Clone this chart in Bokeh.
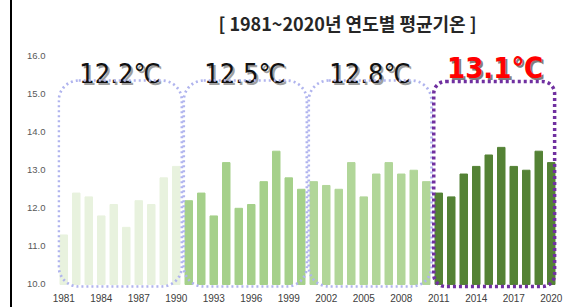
from bokeh.plotting import figure
from bokeh.models import (ColumnDataSource, FixedTicker, NumeralTickFormatter,
                          BoxAnnotation, Range1d, Div)
from bokeh.layouts import row
from bokeh.core.properties import value
from bokeh.embed import file_html
from bokeh.resources import INLINE

# ---------------- data ----------------
years = list(range(1981, 2021))
temps = [11.3, 12.4, 12.3, 11.8, 12.1, 11.5, 12.2, 12.1, 12.8, 13.1,
         12.2, 12.4, 11.8, 13.2, 12.0, 12.1, 12.7, 13.5, 12.8, 12.5,
         12.7, 12.6, 12.5, 13.2, 12.3, 12.9, 13.2, 12.9, 13.0, 12.7,
         12.4, 12.3, 12.9, 13.1, 13.4, 13.6, 13.1, 13.0, 13.5, 13.2]
period_starts = [1981, 1991, 2001, 2011]
period_ends = [1990, 2000, 2010, 2020]
period_means = [12.2, 12.5, 12.8, 13.1]
period_colors = ["#e8f2de", "#a5d08a", "#b1d699", "#548235"]
x_tick_years = list(range(1981, 2021, 3))
y_ticks = [10, 11, 12, 13, 14, 15, 16]
title_text = "[ 1981~2020년 연도별 평균기온 ]"

# ---------------- build ----------------
bar_colors = []
for y in years:
    for s, e, c in zip(period_starts, period_ends, period_colors):
        if s <= y <= e:
            bar_colors.append(c)
src = ColumnDataSource(dict(year=years, temp=temps, color=bar_colors))

y0, y1 = 9.868, 17.457
p = figure(width=553, height=307, output_backend="svg", toolbar_location=None,
           x_range=Range1d(1980.5, 2020.5), y_range=Range1d(y0, y1),
           min_border_left=45, min_border_right=8, min_border_top=0,
           min_border_bottom=18)
p.outline_line_color = None
p.xgrid.visible = False
p.ygrid.visible = False
p.background_fill_color = "white"
p.border_fill_color = "white"

p.vbar(x="year", top="temp", bottom=10, width=0.6, color="color", source=src)

# axes
for ax in (p.xaxis[0], p.yaxis[0]):
    ax.axis_line_color = None
    ax.major_tick_line_color = None
    ax.minor_tick_line_color = None
    ax.major_tick_out = 0
    ax.major_tick_in = 0
    ax.minor_tick_out = 0
    ax.minor_tick_in = 0
    ax.major_label_text_font = "Liberation Sans"
p.xaxis.ticker = FixedTicker(ticks=x_tick_years)
p.xaxis.formatter = NumeralTickFormatter(format="0")
p.xaxis.major_label_text_font_size = "10px"
p.xaxis.major_label_text_color = "#404040"
p.xaxis.major_label_standoff = 4
p.yaxis.ticker = FixedTicker(ticks=y_ticks)
p.yaxis.formatter = NumeralTickFormatter(format="0.0")
p.yaxis.major_label_text_font_size = "9.5px"
p.yaxis.major_label_text_color = "#595959"
p.yaxis.major_label_standoff = 12

# dotted rounded period boxes
right_pad = [0.45, 0.45, 0.42, 0.27]
for i, (s, e) in enumerate(zip(period_starts, period_ends)):
    last = i == len(period_starts) - 1
    box = BoxAnnotation(left=s - 0.4, right=e + right_pad[i], bottom=9.947,
                        top=15.33 if last else 15.356,
                        fill_alpha=0, fill_color=None,
                        line_color="#7030a0" if last else "#b0b4ee",
                        line_alpha=1,
                        line_width=3.5 if last else 2.7,
                        line_dash="3 3" if last else "2 3",
                        border_radius=12 if last else 20,
                        level="overlay")
    p.add_layout(box)

# period mean labels
FONT = "DejaVu Sans Condensed, Roboto Condensed, Liberation Sans"
mids = [(s + e) / 2 for s, e in zip(period_starts, period_ends)]
lab_txt = [f"{m:.1f}\u2103" for m in period_means]
lab_src = ColumnDataSource(dict(x=mids[:3], y=[15.54] * 3, t=lab_txt[:3]))
p.text(x="x", y="y", text="t", source=lab_src, text_align="center",
       text_baseline="alphabetic", text_font=value(FONT),
       text_font_size="27px", text_color="#a0a0a0", x_offset=2, y_offset=2)
p.text(x="x", y="y", text="t", source=lab_src, text_align="center",
       text_baseline="alphabetic", text_font=value(FONT),
       text_font_size="27px", text_color="#111111")
red_src = ColumnDataSource(dict(x=mids[3:], y=[15.68], t=lab_txt[3:]))
p.text(x="x", y="y", text="t", source=red_src, text_align="center",
       text_baseline="alphabetic", text_font=value(FONT),
       text_font_size="29px", text_font_style="bold", text_color="#808080",
       x_offset=2, y_offset=2)
p.text(x="x", y="y", text="t", source=red_src, text_align="center",
       text_baseline="alphabetic", text_font=value(FONT),
       text_font_size="29px", text_font_style="bold", text_color="#ff0000")

# title
p.text(x=[2003.7], y=[16.879], text=[title_text], text_align="center",
       text_baseline="middle", text_font=value("Noto Sans CJK KR"),
       text_font_size="18px", text_font_style="bold", text_color="#262626")

# left border line
edge = Div(text="", width=2, height=307, margin=(0, 0, 0, 10),
           styles={"background-color": "black"})

layout = row(edge, p, spacing=0)
open("out.html", "w").write(file_html(layout, INLINE))
